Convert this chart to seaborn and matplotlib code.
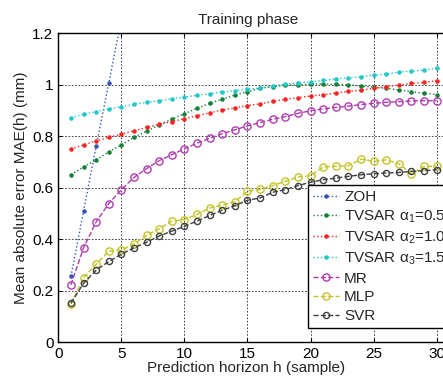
import numpy as np
import matplotlib
matplotlib.use('Agg')
from matplotlib import pyplot as plt
import seaborn as sns

sns.set_style("ticks")
plt.rcParams['font.family'] = ['Liberation Sans', 'DejaVu Sans']
plt.rcParams['mathtext.fontset'] = 'custom'
plt.rcParams['mathtext.rm'] = 'Liberation Sans'
plt.rcParams['mathtext.default'] = 'regular'

# Data ~~~~~~~~~~~~~~~~~~~~~~~~~~~~~~~~~~~~~~~~~~~~~~~~~~~~~~~~~~~~~~~~~~~
h = list(range(1, 31))
h_zoh = [1, 2, 3, 4, 5]
zoh = [0.255, 0.508, 0.760, 1.006, 1.255]

tvsar_a1 = [0.650, 0.681, 0.708, 0.739, 0.766, 0.796, 0.819, 0.845, 0.866, 0.888,
            0.908, 0.928, 0.944, 0.960, 0.973, 0.986, 0.993, 0.998, 1.000, 1.002,
            1.003, 1.002, 1.000, 0.995, 0.990, 0.986, 0.980, 0.973, 0.967, 0.962]
tvsar_a2 = [0.750, 0.766, 0.782, 0.795, 0.808, 0.821, 0.834, 0.847, 0.857, 0.868,
            0.880, 0.891, 0.902, 0.910, 0.919, 0.926, 0.935, 0.943, 0.950, 0.956,
            0.961, 0.968, 0.974, 0.979, 0.986, 0.993, 0.999, 1.005, 1.009, 1.016]
tvsar_a3 = [0.872, 0.885, 0.896, 0.906, 0.915, 0.924, 0.932, 0.938, 0.946, 0.952,
            0.959, 0.965, 0.972, 0.977, 0.983, 0.987, 0.995, 1.002, 1.008, 1.011,
            1.017, 1.022, 1.027, 1.031, 1.037, 1.042, 1.049, 1.053, 1.057, 1.064]
mr = [0.222, 0.366, 0.467, 0.538, 0.592, 0.640, 0.674, 0.705, 0.728, 0.751,
      0.773, 0.792, 0.810, 0.825, 0.840, 0.853, 0.866, 0.876, 0.889, 0.899,
      0.906, 0.912, 0.917, 0.923, 0.928, 0.932, 0.934, 0.937, 0.938, 0.938]
mlp = [0.147, 0.250, 0.302, 0.353, 0.357, 0.381, 0.415, 0.440, 0.470, 0.476,
       0.496, 0.521, 0.532, 0.545, 0.586, 0.593, 0.608, 0.625, 0.641, 0.647,
       0.680, 0.683, 0.685, 0.711, 0.702, 0.708, 0.693, 0.654, 0.683, 0.683]
svr = [0.151, 0.228, 0.279, 0.313, 0.341, 0.366, 0.388, 0.412, 0.431, 0.450,
       0.470, 0.492, 0.512, 0.530, 0.551, 0.560, 0.582, 0.592, 0.608, 0.621,
       0.631, 0.637, 0.644, 0.650, 0.654, 0.657, 0.659, 0.663, 0.666, 0.670]

yticks = [0, 0.2, 0.4, 0.6, 0.8, 1.0, 1.2]
yticklabels = ['0', '0.2', '0.4', '0.6', '0.8', '1', '1.2']
xticks = [0, 5, 10, 15, 20, 25, 30]

# Figure ~~~~~~~~~~~~~~~~~~~~~~~~~~~~~~~~~~~~~~~~~~~~~~~~~~~~~~~~~~~~~~~~~
fig = plt.figure(figsize=(4.43, 3.78), dpi=100)
ax = fig.add_axes([0.1316, 0.0952, 0.8826, 0.8167])


def draw(x, y, color, label, ls, mk, ms, filled):
    sns.lineplot(x=x, y=y, ax=ax, color=color, label=label, linewidth=1.0)
    ln = ax.lines[-1]
    ln.set_linestyle(ls)
    ln.set_marker(mk)
    ln.set_markersize(ms)
    ln.set_markeredgewidth(1.0)
    ln.set_markeredgecolor(color)
    ln.set_markerfacecolor(color if filled else 'none')


draw(h_zoh, zoh, '#3355b5', 'ZOH', ':', '.', 4.5, True)
draw(h, tvsar_a1, '#14803c', r'TVSAR α$_1$=0.5', ':', '.', 4.5, True)
draw(h, tvsar_a2, '#f52525', r'TVSAR α$_2$=1.0', ':', '.', 4.5, True)
draw(h, tvsar_a3, '#22c8c8', r'TVSAR α$_3$=1.5', ':', '.', 4.5, True)
draw(h, mr, '#b03cb0', 'MR', '--', 'o', 5.2, False)
draw(h, mlp, '#c4c428', 'MLP', '--', 'o', 5.2, False)
draw(h, svr, '#404040', 'SVR', '--', 'o', 4.4, False)

ax.set_xlim(0, 31)
ax.set_ylim(0, 1.2)
ax.set_xticks(xticks)
ax.set_yticks(yticks)
ax.set_yticklabels(yticklabels)
ax.tick_params(direction='in', top=True, right=True, labelsize=11, length=3,
               color='black', labelcolor='black')
for s in ax.spines.values():
    s.set_linewidth(1.0)
    s.set_color('black')
ax.grid(True, color='black', linestyle=(0, (2, 2)), linewidth=0.6, alpha=0.85)

ax.set_title('Training phase', fontsize=11, x=0.485, pad=7)
ax.set_xlabel('Prediction horizon h (sample)', fontsize=11, x=0.479, labelpad=0)
ax.set_ylabel('Mean absolute error MAE(h) (mm)', fontsize=11, labelpad=3)

leg = ax.legend(loc='upper left', bbox_to_anchor=(0.639, 0.509), fontsize=11,
                frameon=True, fancybox=False, framealpha=1, edgecolor='black',
                handlelength=1.7, handletextpad=0.3, labelspacing=0.3,
                borderpad=0.35, borderaxespad=0)
leg.get_frame().set_linewidth(1.0)

plt.savefig('out.png', dpi=100)
